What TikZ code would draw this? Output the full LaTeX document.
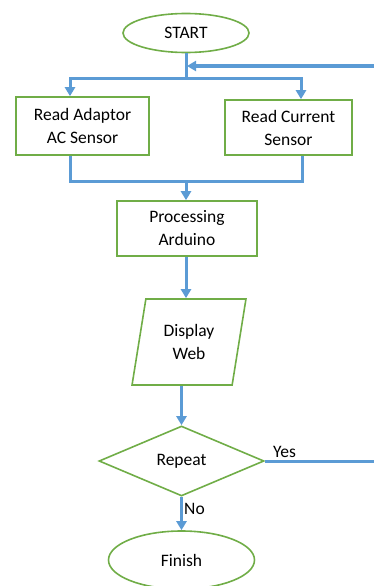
\documentclass[tikz,border=0pt]{standalone}
\usepackage{fontspec}
\setmainfont{Carlito}
\usepackage{tikz}
\usetikzlibrary{shapes.geometric,arrows.meta}
\definecolor{boxgreen}{HTML}{70AD47}
\definecolor{flowblue}{HTML}{5B9BD5}

\begin{document}
\begin{tikzpicture}[x=1pt,y=-1pt,
        font=\fontsize{17.5}{23}\selectfont,
        greenshape/.style={draw=boxgreen,line width=1.6pt,inner sep=0pt,align=center},
        termbox/.style={greenshape,ellipse},
        procbox/.style={greenshape,rectangle},
        iobox/.style={greenshape,trapezium,trapezium left angle=77,trapezium right angle=103,
            trapezium stretches=true},
        decbox/.style={greenshape,diamond},
        link/.style={draw=flowblue,line width=3pt},
        flow/.style={link,-{Triangle[length=9pt,width=10pt]}}]
        \useasboundingbox (0,0) rectangle (374,586);

        \node[termbox,minimum width=126,minimum height=39] (start) at (186,33) {START};
        \node[procbox,minimum width=133,minimum height=58] (adaptor) at (82.5,126) {Read Adaptor\\AC Sensor};
        \node[procbox,minimum width=127,minimum height=55] (current) at (288.5,127.5) {Read Current\\Sensor};
        \node[procbox,minimum width=140,minimum height=55] (arduino) at (187,228.5) {Processing\\Arduino};
        \node[iobox,minimum width=114,minimum height=86] (web) at (189,342) {Display\\Web};
        \node[decbox,minimum width=165,minimum height=70] (repeat) at (181.5,461) {Repeat};
        \node[termbox,minimum width=146,minimum height=58] (finish) at (181.5,560) {Finish};

        \coordinate (split) at (186,78);
        \coordinate (merge) at (186,181);
        \coordinate (yesend) at (376,461);
        \coordinate (back) at (376,66);

        \draw[link] (start) -- (split);
        \draw[flow] (split) -| ([xshift=-12.5]adaptor.north);
        \draw[flow] (split) -| ([xshift=12.5]current.north);
        \draw[link] ([xshift=-12.5]adaptor.south) |- (merge) -| ([xshift=13.5]current.south);
        \draw[flow] (merge) -- (merge |- arduino.north);
        \draw[flow] (arduino.south -| merge) -- (merge |- web.north);
        \draw[flow] (repeat.north |- web.south) -- (repeat);
        \draw[flow] (repeat) -- (finish);
        \draw[link] (repeat.east) -- (yesend);
        \draw[flow,line width=4pt] (back) -- ([xshift=1]split |- back);

        \node[anchor=south west,inner sep=0pt] (yes) at (273,458) {Yes};
        \node[anchor=west,inner sep=0pt] (no) at (184,509) {No};
    \end{tikzpicture}
\end{document}
